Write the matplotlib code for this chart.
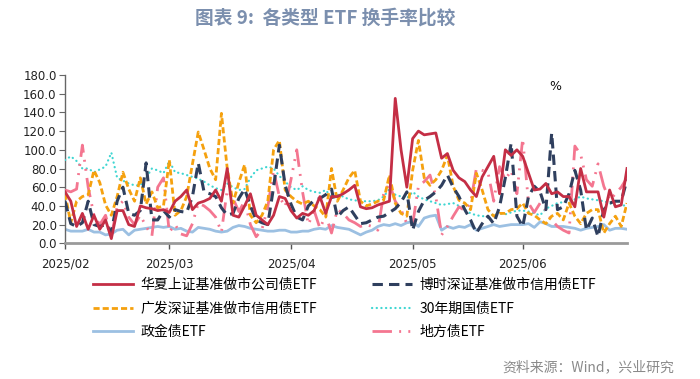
import numpy as np
import pandas as pd
import matplotlib
matplotlib.use("Agg")
import matplotlib.pyplot as plt
from matplotlib.lines import Line2D

plt.rcParams['font.family'] = ['Noto Sans CJK SC', 'DejaVu Sans']

# ---- trading days (2025-02-05 .. 2025-06-27) ----
holidays = pd.to_datetime(["2025-04-04", "2025-05-01", "2025-05-02", "2025-05-05", "2025-06-02"])
dates = pd.bdate_range("2025-02-05", "2025-06-27")
dates = dates[~dates.isin(holidays)]

# ---- series (turnover %) ----
huaxia = [55, 45, 18, 32, 15, 30, 15, 25, 5, 35, 35, 20, 18, 40, 38, 37, 35, 36,
          33, 45, 50, 57, 36, 43, 45, 48, 57, 45, 80, 30, 28, 40, 53, 30, 25, 20, 30, 50, 48,
          35, 27, 32, 30, 35, 50, 32, 50, 50, 53, 57, 62, 39, 37, 38, 41, 43, 45, 155, 100, 60,
          112, 120, 116, 117, 118, 91, 96, 78, 70, 66, 57, 50, 71, 82, 93, 53, 100, 94, 100,
          93, 75, 57, 58, 64, 53, 55, 50, 50, 39, 80, 55, 55, 55, 28, 57, 39, 41, 80]
boshi = [45, 21, 18, 22, 45, 20, 18, 20, 12, 45, 60, 32, 30, 35, 86, 25, 25, 35,
         28, 36, 34, 33, 50, 86, 55, 53, 50, 38, 30, 32, 48, 58, 40, 25, 22, 20, 60, 105, 62,
         42, 28, 25, 40, 46, 48, 52, 58, 28, 35, 39, 30, 21, 22, 25, 28, 29, 33, 37, 44, 55,
         14, 34, 46, 50, 55, 62, 73, 60, 50, 36, 25, 11, 21, 29, 21, 39, 70, 107, 29,
         18, 50, 61, 55, 36, 118, 36, 39, 53, 78, 57, 14, 27, 7, 36, 43, 45, 45, 68]
guangfa = [53, 22, 45, 50, 52, 78, 65, 41, 30, 50, 76, 58, 45, 70, 42, 55, 38, 40,
           89, 30, 35, 50, 85, 119, 100, 80, 68, 139, 80, 43, 65, 84, 30, 22, 30, 45, 100, 110, 57,
           50, 45, 42, 45, 40, 36, 28, 80, 45, 57, 70, 78, 45, 40, 42, 45, 46, 73, 43, 32, 29,
           78, 110, 70, 62, 68, 78, 94, 61, 46, 43, 36, 75, 57, 36, 29, 32, 32, 36, 37,
           43, 32, 30, 25, 21, 29, 32, 25, 43, 29, 21, 32, 36, 36, 11, 21, 29, 18, 43]
guozhai30 = [89, 93, 88, 80, 80, 76, 79, 82, 97, 70, 67, 64, 62, 62, 70, 80, 78, 75,
             88, 76, 75, 73, 71, 69, 66, 62, 59, 57, 64, 60, 57, 58, 70, 78, 80, 82, 80, 72, 66,
             60, 57, 61, 57, 55, 54, 57, 49, 52, 50, 47, 46, 45, 45, 45, 46, 50, 58, 52, 50, 48,
             55, 50, 47, 45, 43, 41, 42, 43, 40, 36, 32, 30, 29, 29, 31, 32, 31, 33, 35,
             35, 34, 32, 30, 37, 40, 43, 44, 45, 47, 50, 48, 47, 46, 45, 43, 40, 40, 41]
zhengjin = [15, 13, 13, 13, 15, 12, 12, 9, 10, 14, 15, 9, 14, 15, 16, 17, 18, 17,
            18, 15, 16, 13, 12, 17, 16, 15, 13, 12, 13, 17, 19, 18, 16, 15, 14, 13, 13, 14, 14,
            12, 12, 13, 13, 15, 16, 15, 19, 17, 16, 15, 12, 9, 12, 14, 18, 20, 19, 21, 19, 22,
            23, 18, 27, 29, 30, 14, 18, 16, 18, 17, 20, 14, 16, 18, 20, 18, 19, 20, 20,
            20, 21, 17, 23, 21, 18, 18, 18, 17, 16, 14, 16, 17, 18, 20, 14, 16, 16, 15]
difang = [57, 55, 58, 105, 60, 30, 20, 30, 8, 39, 45, 28, 20, 30, 18, 8, 60, 70,
          12, 20, 10, 8, 21, 43, 40, 35, 28, 12, 57, 48, 34, 45, 20, 7, 15, 39, 78, 50, 39,
          68, 100, 55, 20, 35, 16, 30, 11, 36, 32, 25, 22, 18, 20, 18, 14, 53, 64, 45, 36, 21,
          20, 61, 66, 73, 50, 9, 18, 29, 39, 35, 43, 80, 78, 76, 45, 82, 68, 78, 53,
          112, 43, 33, 43, 35, 25, 18, 14, 11, 104, 95, 68, 61, 85, 61, 46, 53, 60, 70]

labels = ["华夏上证基准做市公司债ETF", "博时深证基准做市信用债ETF", "广发深证基准做市信用债ETF",
          "30年期国债ETF", "政金债ETF", "地方债ETF"]
yticks = [0, 20, 40, 60, 80, 100, 120, 140, 160, 180]

x = np.arange(len(dates))

W, H = 700, 379
fig = plt.figure(figsize=(W / 100, H / 100), dpi=100)
ax = fig.add_axes([65 / W, 1 - 243.3 / H, (627 - 65) / W, (243.3 - 75) / H])

c_red, c_navy, c_orange = "#C42E45", "#2F3F5E", "#F5A10F"
c_cyan, c_lblue, c_pink = "#3ED6D2", "#9CC0E2", "#F47690"

styles = {
    "huaxia": dict(color=c_red, lw=2.0, ls="-"),
    "boshi": dict(color=c_navy, lw=2.2, ls=(0, (3.4, 2.0))),
    "guangfa": dict(color=c_orange, lw=2.0, ls=(0, (2.2, 1.1))),
    "guozhai": dict(color=c_cyan, lw=1.6, ls=(0, (0.1, 2.0)), dash_capstyle="round"),
    "zhengjin": dict(color=c_lblue, lw=2.0, ls="-"),
    "difang": dict(color=c_pink, lw=2.0, ls=(0, (7.0, 2.6, 0.7, 2.6, 0.7, 2.6))),
}

ax.plot(x, zhengjin, **styles["zhengjin"], zorder=2)
ax.plot(x, guozhai30, **styles["guozhai"], zorder=3)
ax.plot(x, difang, **styles["difang"], zorder=4)
ax.plot(x, guangfa, **styles["guangfa"], zorder=5)
ax.plot(x, boshi, **styles["boshi"], zorder=6)
ax.plot(x, huaxia, **styles["huaxia"], zorder=7)

ax.set_xlim(0, len(dates) - 1)
ax.set_ylim(0, 180)
ax.set_yticks(yticks)
ax.set_yticklabels([f"{v:.1f}" for v in yticks], family="DejaVu Sans", fontsize=8.5, color="#222222")

month_first = [i for i in range(len(dates)) if i == 0 or dates[i].month != dates[i - 1].month]
ax.set_xticks(month_first)
ax.set_xticklabels([dates[i].strftime("%Y/%m") for i in month_first],
                   family="DejaVu Sans", fontsize=8.5, color="#222222")

for s in ["top", "right"]:
    ax.spines[s].set_visible(False)
ax.spines["left"].set_color("#666666")
ax.spines["left"].set_linewidth(1.0)
ax.spines["bottom"].set_color("#9a9a9a")
ax.spines["bottom"].set_linewidth(2.0)
ax.tick_params(axis="y", length=4, width=0.8, color="#666666", pad=2)
ax.tick_params(axis="x", length=4, width=1.0, color="#555555", pad=6)

# title, unit, source
fig.text(325 / W, 1 - 18 / H, "图表 9:  各类型 ETF 换手率比较", ha="center", va="center",
         fontsize=13.5, fontweight="bold", color="#7b8fae")
fig.text(555 / W, 1 - 87 / H, "%", ha="center", va="center", fontsize=9,
         family="DejaVu Sans", color="#111111")
fig.text(674 / W, 1 - 367 / H, "资料来源：Wind，兴业研究", ha="right", va="center",
         fontsize=10, color="#8a8a8a")

# legends (two columns placed separately)
def handle(key):
    st = dict(styles[key])
    return Line2D([], [], **st)

col1 = [(handle("huaxia"), labels[0]), (handle("guangfa"), labels[2]), (handle("zhengjin"), labels[4])]
col2 = [(handle("boshi"), labels[1]), (handle("guozhai"), labels[3]), (handle("difang"), labels[5])]
for cx, items in [(93, col1), (372, col2)]:
    leg = fig.legend([h for h, _ in items], [l for _, l in items], loc="upper left",
                     bbox_to_anchor=(cx / W, 1 - 278 / H), frameon=False, fontsize=10,
                     borderpad=0, borderaxespad=0, handlelength=2.9, handletextpad=0.5,
                     labelspacing=0.68)

fig.savefig("out.png", dpi=100)
